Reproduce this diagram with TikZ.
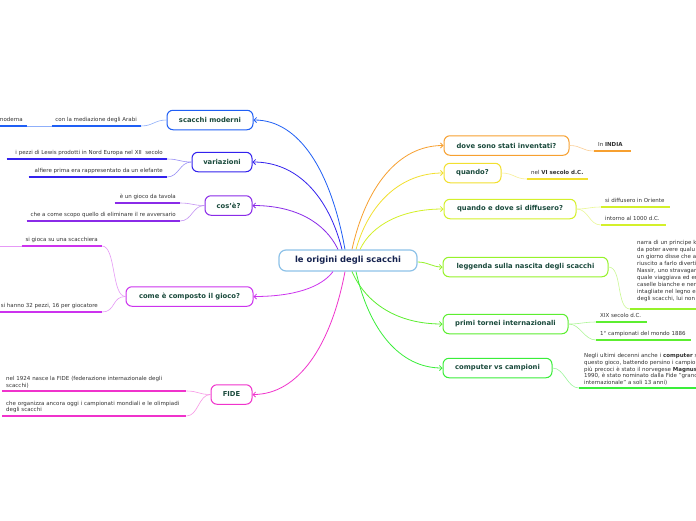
\documentclass[tikz,border=0pt]{standalone}
\usepackage{fontspec}
\setmainfont{DejaVu Sans}
\usetikzlibrary{arrows.meta}
\definecolor{cRoot}{HTML}{8EC2E8}
\definecolor{cRootText}{HTML}{15224F}
\definecolor{cTopicText}{HTML}{1A4A3C}
\definecolor{cLeaf}{HTML}{333333}
\definecolor{cBlue}{HTML}{1F5FF5}
\definecolor{cIndigo}{HTML}{3322EE}
\definecolor{cViolet}{HTML}{8A2BE8}
\definecolor{cMagenta}{HTML}{CC33EE}
\definecolor{cPink}{HTML}{F033CC}
\definecolor{cOrange}{HTML}{F7A030}
\definecolor{cYellow}{HTML}{F2E030}
\definecolor{cYG}{HTML}{D4F02A}
\definecolor{cLG}{HTML}{96F22A}
\definecolor{cGa}{HTML}{5CEE30}
\definecolor{cGb}{HTML}{3AEE3A}
\newcommand\lleaf[2]{\makebox[#1pt][r]{#2\hspace{4pt}}}
\newcommand\rleaf[2]{\makebox[#1pt][l]{\hspace{4pt}#2}}
\tikzset{
  rootbox/.style={draw=cRoot, line width=1.2pt, fill=white, rounded corners=7pt,
    minimum height=21pt, minimum width=138pt, inner sep=0pt,
    font=\fontsize{8.4}{10}\selectfont\bfseries, text=cRootText},
  topicbox/.style={draw=#1, line width=1pt, fill=white, rounded corners=6pt,
    minimum height=19.5pt, inner sep=0pt,
    font=\fontsize{6.8}{8}\selectfont\bfseries, text=cTopicText},
  branch/.style={draw=#1, line width=0.8pt, -{Straight Barb[length=2.5pt,width=5pt]}},
  twig/.style={draw=#1!50, line width=0.6pt},
  leafbox/.style={inner xsep=0pt, inner ysep=3.3pt, text height=4pt, text depth=1.2pt,
    font=\fontsize{5.5}{6.6}\selectfont, text=cLeaf},
  leafpar/.style={inner xsep=4pt, inner ysep=2.8pt, align=left,
    font=\fontsize{5.5}{6.6}\selectfont, text=cLeaf},
  ul/.style={draw=#1, line width=1.6pt}
}
\begin{document}
\begin{tikzpicture}[x=1pt,y=-1pt]
\useasboundingbox (0,0) rectangle (696,520);
\fill[white] (0,0) rectangle (696,520);

% central node
\node[rootbox] (root) at (348,260.5) {le origini degli scacchi};

% left topics
\node[topicbox=cBlue, minimum width=86pt] (scm) at (210,120) {scacchi moderni};
\node[topicbox=cIndigo, minimum width=60pt] (var) at (222,162) {variazioni};
\node[topicbox=cViolet, minimum width=47pt] (cos) at (228.5,205.5) {cos'è?};
\node[topicbox=cMagenta, minimum width=127pt] (com) at (189.5,296.5) {come è composto il gioco?};
\node[topicbox=cPink, minimum width=41pt] (fide) at (231.5,394.5) {FIDE};

% right topics
\node[topicbox=cOrange, minimum width=125pt] (dove) at (506.5,145.5) {dove sono stati inventati?};
\node[topicbox=cYellow, minimum width=57pt] (qua) at (472.5,173) {quando?};
\node[topicbox=cYG, minimum width=132pt] (dif) at (510,209) {quando e dove si diffusero?};
\node[topicbox=cLG, minimum width=165pt] (leg) at (525.5,267) {leggenda sulla nascita degli scacchi};
\node[topicbox=cGa, minimum width=125pt] (tor) at (505.5,324) {primi tornei internazionali};
\node[topicbox=cGb, minimum width=109pt] (cvc) at (497.5,368) {computer vs campioni};

% branches from root
\draw[branch=cBlue] ([xshift=-3pt]root.north) .. controls +(-14,-78) and +(46,0) .. (scm.east);
\draw[branch=cIndigo] ([xshift=-6pt]root.north) .. controls +(-13.5,-53) and +(45,0) .. (var.east);
\draw[branch=cViolet] ([xshift=-10pt]root.north) .. controls +(-13,-27) and +(43,0) .. (cos.east);
\draw[branch=cMagenta] ([xshift=-15pt]root.south) .. controls +(-12,16) and +(40,0) .. (com.east);
\draw[branch=cPink] ([xshift=-3pt]root.south) .. controls +(-14,74) and +(46,0) .. (fide.east);
\draw[branch=cOrange] ([xshift=4pt]root.north) .. controls +(14,-63) and +(-45,0) .. (dove.west);
\draw[branch=cYellow] ([xshift=8pt]root.north) .. controls +(13,-46) and +(-43,0) .. (qua.west);
\draw[branch=cYG] ([xshift=12pt]root.north) .. controls +(12,-25) and +(-41,0) .. (dif.west);
\draw[branch=cLG] ([yshift=-1.5pt]root.east) .. controls +(10,0) and +(-10,0) .. (leg.west);
\draw[branch=cGa] ([xshift=4pt]root.south) .. controls +(14,32) and +(-45,0) .. (tor.west);
\draw[branch=cGb] ([xshift=8pt]root.south) .. controls +(13,58) and +(-43,0) .. (cvc.west);

% left leaves
\node[leafbox, anchor=south east] (a1) at (141,126) {\lleaf{89}{con la mediazione degli Arabi}};
\node[leafbox, anchor=south east] (a2) at (27,126) {\lleaf{27}{moderna}};
\node[leafbox, anchor=south east] (b1) at (167,159) {\lleaf{160}{i pezzi di Lewis prodotti in Nord Europa nel XII\ \ secolo}};
\node[leafbox, anchor=south east] (b2) at (167,177) {\lleaf{138}{alfiere prima era rappresentato da un elefante}};
\node[leafbox, anchor=south east] (c1) at (180,203) {\lleaf{65}{è un gioco da tavola}};
\node[leafbox, anchor=south east] (c2) at (180,221) {\lleaf{153}{che a come scopo quello di eliminare il re avversario}};
\node[leafbox, anchor=south east] (d1) at (102,246) {\lleaf{80}{si gioca su una scacchiera}};
\node[leafbox, anchor=south east] (d2) at (102,312) {\lleaf{102}{si hanno 32 pezzi, 16 per giocatore}};
\node[leafpar, anchor=south west, text width=176pt] (e1) at (2,391)
  {nel 1924 nasce la FIDE (federazione internazionale degli\\scacchi)};
\node[leafpar, anchor=south west, text width=176pt] (e2) at (2,416)
  {che organizza ancora oggi i campionati mondiali e le olimpiadi\\degli scacchi};
\coordinate (dfree) at (0,246);

% right leaves
\node[leafbox, anchor=south west] (f1) at (594,151) {\rleaf{37}{In \textbf{INDIA}}};
\node[leafbox, anchor=south west] (g1) at (527,179) {\rleaf{61}{nel \textbf{VI secolo d.C.}}};
\node[leafbox, anchor=south west] (h1) at (601,207) {\rleaf{69}{si diffusero in Oriente}};
\node[leafbox, anchor=south west] (h2) at (601,225) {\rleaf{65}{intorno al 1000 d.C.}};
\node[leafpar, anchor=south west, inner xsep=7pt, inner ysep=7pt, text width=120pt,
  font=\fontsize{5.5}{7}\selectfont] (i1) at (630,309)
  {narra di un principe k\\da poter avere qualu\\un giorno disse che a\\riuscito a farlo diverti\\Nassir, uno stravagar\\quale viaggiava ed er\\caselle bianche e ner\\intagliate nel legno e\\degli scacchi, lui non};
\node[leafbox, anchor=south west] (j1) at (596,322) {\rleaf{51}{XIX secolo d.C.}};
\node[leafbox, anchor=south west] (j2) at (596,340) {\rleaf{95}{1° campionati del mondo 1886}};
\node[leafpar, anchor=south west, inner xsep=5pt, text width=140pt] (k1) at (579,388)
  {Negli ultimi decenni anche i \textbf{computer} s\\questo gioco, battendo persino i campion\\più precoci è stato il norvegese \textbf{Magnus}\\1990, è stato nominato dalla Fide "granc\\internazionale" a soli 13 anni)};

% twigs
\draw[twig=cBlue] (scm.west) .. controls +(-12,0) and +(12,0) .. (a1.south east);
\draw[twig=cBlue] (a1.south west) -- (a2.south east);
\draw[twig=cIndigo] (var.west) .. controls +(-12,0) and +(12,0) .. (b1.south east);
\draw[twig=cIndigo] (var.west) .. controls +(-12,0) and +(12,0) .. (b2.south east);
\draw[twig=cViolet] (cos.west) .. controls +(-12,0) and +(12,0) .. (c1.south east);
\draw[twig=cViolet] (cos.west) .. controls +(-12,0) and +(12,0) .. (c2.south east);
\draw[twig=cMagenta] (com.west) .. controls +(-14,0) and +(14,0) .. (d1.south east);
\draw[twig=cMagenta] (com.west) .. controls +(-14,0) and +(14,0) .. (d2.south east);
\draw[twig=cMagenta] (d1.south west) -- (dfree);
\draw[twig=cPink] (fide.west) .. controls +(-12,0) and +(12,0) .. (e1.south east);
\draw[twig=cPink] (fide.west) .. controls +(-12,0) and +(12,0) .. (e2.south east);
\draw[twig=cOrange] (dove.east) .. controls +(12,0) and +(-12,0) .. (f1.south west);
\draw[twig=cYellow] (qua.east) .. controls +(12,0) and +(-12,0) .. (g1.south west);
\draw[twig=cYG] (dif.east) .. controls +(12,0) and +(-12,0) .. (h1.south west);
\draw[twig=cYG] (dif.east) .. controls +(12,0) and +(-12,0) .. (h2.south west);
\draw[twig=cLG] (leg.east) .. controls +(14,0) and +(-14,0) .. (i1.south west);
\draw[twig=cGa] (tor.east) .. controls +(12,0) and +(-12,0) .. (j1.south west);
\draw[twig=cGa] (tor.east) .. controls +(12,0) and +(-12,0) .. (j2.south west);
\draw[twig=cGb] (cvc.east) .. controls +(12,0) and +(-12,0) .. (k1.south west);

% underlines
\draw[ul=cBlue] (a1.south west) -- (a1.south east);
\draw[ul=cBlue] (a2.south west) -- (a2.south east);
\draw[ul=cIndigo] (b1.south west) -- (b1.south east);
\draw[ul=cIndigo] (b2.south west) -- (b2.south east);
\draw[ul=cViolet] (c1.south west) -- (c1.south east);
\draw[ul=cViolet] (c2.south west) -- (c2.south east);
\draw[ul=cMagenta] (d1.south west) -- (d1.south east);
\draw[ul=cMagenta] (d2.south west) -- (d2.south east);
\draw[ul=cPink] (e1.south west) -- (e1.south east);
\draw[ul=cPink] (e2.south west) -- (e2.south east);
\draw[ul=cOrange] (f1.south west) -- (f1.south east);
\draw[ul=cYellow] (g1.south west) -- (g1.south east);
\draw[ul=cYG] (h1.south west) -- (h1.south east);
\draw[ul=cYG] (h2.south west) -- (h2.south east);
\draw[ul=cLG] (i1.south west) -- (i1.south east);
\draw[ul=cGa] (j1.south west) -- (j1.south east);
\draw[ul=cGa] (j2.south west) -- (j2.south east);
\draw[ul=cGb] (k1.south west) -- (k1.south east);
\end{tikzpicture}
\end{document}
